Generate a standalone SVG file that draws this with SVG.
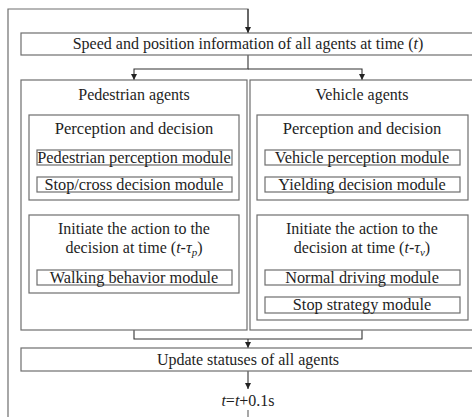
<svg xmlns="http://www.w3.org/2000/svg" width="472" height="417" viewBox="0 0 472 417">
<defs>
<marker id="ah" viewBox="0 0 8 8" refX="8" refY="4" markerWidth="6" markerHeight="6" markerUnits="userSpaceOnUse" orient="auto">
<path d="M0,0 L8,4 L0,8 Z" fill="#222"/>
</marker>
</defs>
<style>
rect{fill:#fff;stroke:#6e6e6e;stroke-width:1.2}
text{font-family:"Liberation Serif","Times New Roman",serif;font-size:16px;fill:#1e1e1e;text-anchor:middle}
.m{font-size:16.3px}
.h{font-size:16.6px}
.c{fill:none;stroke:#333;stroke-width:1.1}
.g{fill:none;stroke:#6e6e6e;stroke-width:1.2}
</style>
<rect width="472" height="417" style="fill:#fff;stroke:none"/>
<g id="connectors">
<path class="g" d="M248,410 V420 M8,420 V9 H248 V33"/>
<path class="c" d="M248,9 V33" marker-end="url(#ah)"/>
<path class="c" d="M248,55 V69 H134 V80" marker-end="url(#ah)"/>
<path class="c" d="M248,69 H362 V80" marker-end="url(#ah)"/>
<path class="c" d="M134,200 V215" marker-end="url(#ah)"/>
<path class="c" d="M362,200 V215" marker-end="url(#ah)"/>
<path class="c" d="M134,330 V339 H362 V330 M248,339 V348" marker-end="url(#ah)"/>
<path class="c" d="M248,371 V389" marker-end="url(#ah)"/>
</g>
<g id="speed-position">
<rect x="21" y="33" width="470" height="22"/>
<text x="248" y="49">Speed and position information of all agents at time (<tspan font-style="italic">t</tspan>)</text>
</g>
<g id="pedestrian-agents">
<rect x="21" y="80" width="226" height="250"/>
<text x="134" y="100">Pedestrian agents</text>
</g>
<g id="vehicle-agents">
<rect x="250" y="80" width="240" height="250"/>
<text x="362" y="100">Vehicle agents</text>
</g>
<g id="ped-perception">
<rect x="29" y="115" width="210" height="85"/>
<text class="h" x="134" y="134">Perception and decision</text>
</g>
<g id="ped-perception-module">
<rect x="37" y="150" width="195" height="15"/>
<text class="m" x="134" y="162.5">Pedestrian perception module</text>
</g>
<g id="ped-decision-module">
<rect x="37" y="177" width="195" height="15"/>
<text class="m" x="134" y="189.5">Stop/cross decision module</text>
</g>
<g id="ped-initiate">
<rect x="29" y="215" width="210" height="78"/>
<text x="134" y="234">Initiate the action to the</text>
<text x="134" y="253">decision at time (<tspan font-style="italic">t</tspan>-<tspan font-style="italic">τ</tspan><tspan font-style="italic" font-size="11" dy="3">p</tspan><tspan dy="-3">)</tspan></text>
</g>
<g id="walking-module">
<rect x="37" y="270" width="195" height="15"/>
<text class="m" x="134" y="282.5">Walking behavior module</text>
</g>
<g id="veh-perception">
<rect x="257" y="115" width="211" height="85"/>
<text class="h" x="362" y="134">Perception and decision</text>
</g>
<g id="veh-perception-module">
<rect x="265" y="150" width="195" height="15"/>
<text class="m" x="362" y="162.5">Vehicle perception module</text>
</g>
<g id="yielding-module">
<rect x="265" y="177" width="195" height="15"/>
<text class="m" x="362" y="189.5">Yielding decision module</text>
</g>
<g id="veh-initiate">
<rect x="257" y="215" width="211" height="105"/>
<text x="362" y="234">Initiate the action to the</text>
<text x="362" y="253">decision at time (<tspan font-style="italic">t</tspan>-<tspan font-style="italic">τ</tspan><tspan font-style="italic" font-size="11" dy="3">v</tspan><tspan dy="-3">)</tspan></text>
</g>
<g id="normal-driving-module">
<rect x="265" y="270" width="195" height="15"/>
<text class="m" x="362" y="282.5">Normal driving module</text>
</g>
<g id="stop-strategy-module">
<rect x="265" y="297" width="195" height="16"/>
<text class="m" x="362" y="310">Stop strategy module</text>
</g>
<g id="update-statuses">
<rect x="21" y="348" width="470" height="23"/>
<text x="248" y="365">Update statuses of all agents</text>
</g>
<g id="time-step">
<text x="248" y="406"><tspan font-style="italic">t</tspan>=<tspan font-style="italic">t</tspan>+0.1s</text>
</g>
</svg>
